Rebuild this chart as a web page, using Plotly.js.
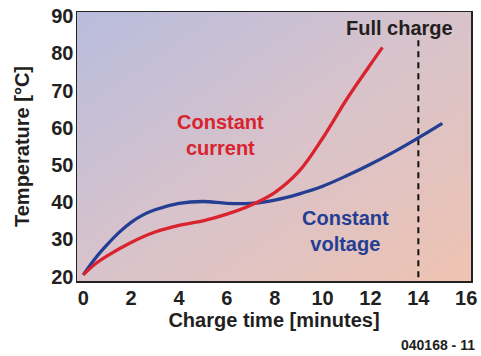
<!DOCTYPE html>
<html>
<head>
<meta charset="utf-8">
<script src="https://cdn.plot.ly/plotly-3.0.1.min.js"></script>
<style>
html,body{margin:0;padding:0;background:#fff;}
#chart{width:481px;height:356px;}
</style>
</head>
<body>
<div id="chart"></div>
<script>
// Constant voltage curve (blue)
const timeVoltage = [0, 0.5, 1, 1.5, 2, 2.5, 3, 4, 5, 6, 7, 8, 9, 10, 11, 12, 13, 14, 15];
const tempVoltage = [20.5, 24.9, 28.6, 31.9, 34.6, 36.6, 38.0, 39.7, 40.2, 39.7, 39.7, 40.6, 42.2, 44.3, 47.1, 50.2, 53.6, 57.3, 61.2];

// Constant current curve (red)
const timeCurrent = [0, 0.5, 1, 2, 3, 4, 5, 6, 7, 8, 9, 10, 11, 12, 12.5];
const tempCurrent = [20.5, 23.4, 25.6, 29.2, 32.0, 33.8, 35.0, 36.8, 39.2, 42.6, 48.2, 57.2, 67.6, 77.0, 81.6];

// Full charge marker
const fullChargeTime = [14, 14];
const fullChargeTemp = [83.5, 18.85];

const xTicks = [0, 2, 4, 6, 8, 10, 12, 14, 16];
const yTicks = [20, 30, 40, 50, 60, 70, 80, 90];

const xRange = [-0.26, 16.2];
const yRange = [18.85, 91.1];

const font = "Liberation Sans, Arial, sans-serif";
const dark = "#231f20";

const traces = [
  {
    type: "heatmap",
    x: xRange, y: yRange,
    z: [[1, 2], [0, 1]],
    zsmooth: "best",
    showscale: false,
    hoverinfo: "skip",
    colorscale: [[0, "#b8bcdd"], [0.5, "#d8c3cb"], [1, "#efc3b2"]]
  },
  {
    type: "scatter", mode: "lines",
    x: fullChargeTime, y: fullChargeTemp,
    line: {color: "#111", width: 2, dash: "6px,5px"},
    hoverinfo: "skip"
  },
  {
    type: "scatter", mode: "lines", name: "Constant voltage",
    x: timeVoltage, y: tempVoltage,
    line: {color: "#243e94", width: 3.3, shape: "spline", smoothing: 1}
  },
  {
    type: "scatter", mode: "lines", name: "Constant current",
    x: timeCurrent, y: tempCurrent,
    line: {color: "#d9232e", width: 3.3, shape: "spline", smoothing: 1}
  }
];

const layout = {
  width: 481, height: 356,
  margin: {l: 77, r: 10, t: 12, b: 75},
  paper_bgcolor: "#ffffff",
  plot_bgcolor: "rgba(0,0,0,0)",
  showlegend: false,
  font: {family: font, color: dark},
  xaxis: {
    range: xRange,
    tickvals: xTicks,
    ticktext: xTicks.map(String),
    ticks: "",
    ticklabelstandoff: -2,
    tickfont: {family: font, size: 20, color: dark, weight: "bold"},
    showgrid: false, zeroline: false,
    showline: true, mirror: true, linecolor: "#222", linewidth: 1.5,
    title: {text: "Charge time [minutes]", font: {family: font, size: 20, color: dark, weight: "bold"}, standoff: 1}
  },
  yaxis: {
    range: yRange,
    tickvals: yTicks,
    ticktext: yTicks.map(String),
    ticks: "",
    ticklabelstandoff: -2,
    tickfont: {family: font, size: 20, color: dark, weight: "bold"},
    showgrid: false, zeroline: false,
    showline: true, mirror: true, linecolor: "#222", linewidth: 1.5,
    title: {text: "Temperature [°C]", font: {family: font, size: 20, color: dark, weight: "bold"}, standoff: 16}
  },
  annotations: [
    {x: 13.2, y: 86.8, xref: "x", yref: "y", text: "Full charge", showarrow: false,
     font: {family: font, size: 20, color: dark, weight: "bold"}},
    {x: 5.75, y: 58.0, xref: "x", yref: "y", text: "Constant<br>current", showarrow: false,
     font: {family: font, size: 20, color: "#d9232e", weight: "bold"}},
    {x: 10.96, y: 32.3, xref: "x", yref: "y", text: "Constant<br>voltage", showarrow: false,
     font: {family: font, size: 20, color: "#243e94", weight: "bold"}},
    {x: 477, y: 345, xref: "paper", yref: "paper", text: "040168 - 11", showarrow: false,
     xanchor: "right", yanchor: "middle",
     font: {family: font, size: 14, color: dark, weight: "bold"}}
  ]
};
// paper coordinates for the code label
layout.annotations[3].x = 1.0 + (477 - 471) / 394;
layout.annotations[3].y = -(345 - 281) / 269;

Plotly.newPlot("chart", traces, layout, {staticPlot: true, displayModeBar: false});
</script>
</body>
</html>
